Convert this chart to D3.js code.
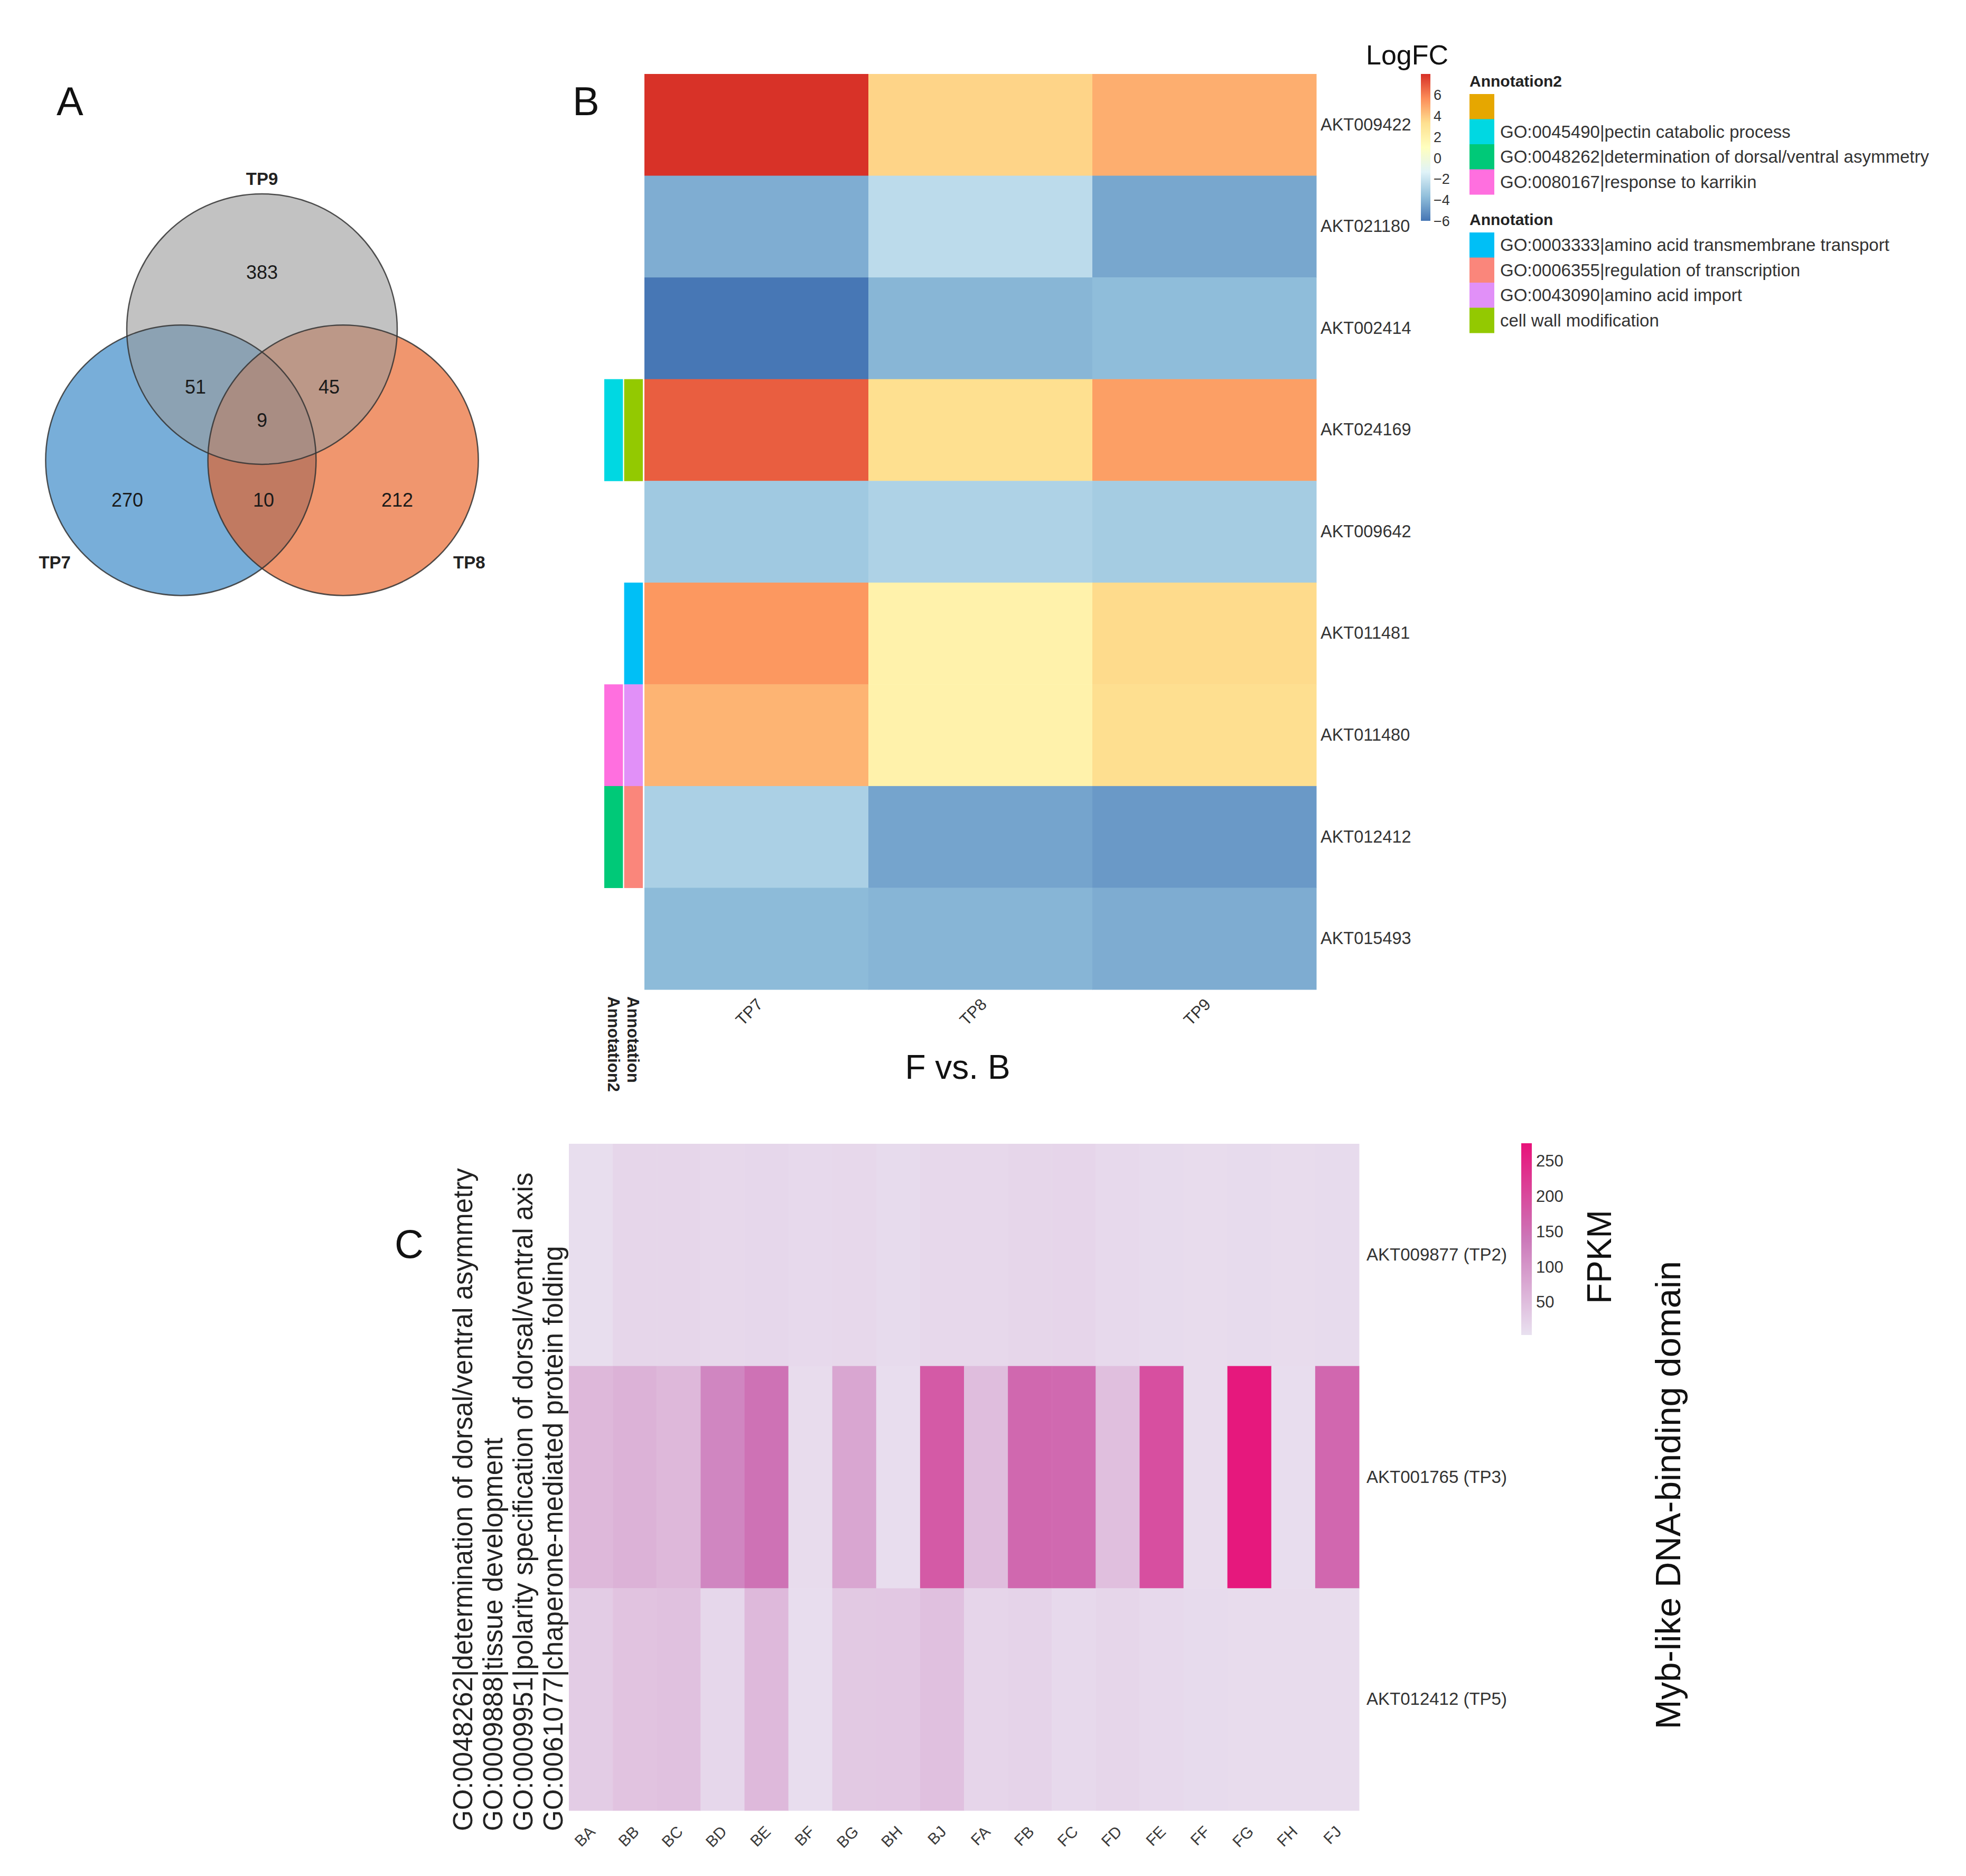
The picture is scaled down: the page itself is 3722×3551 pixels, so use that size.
<!DOCTYPE html>
<html>
<head>
<meta charset="utf-8">
<script src="https://cdn.jsdelivr.net/npm/d3@7"></script>
<style>
  body { margin: 0; background: #fff; }
  svg { display: block; background: #fff; }
  text { font-family: "Liberation Sans", Arial, Helvetica, sans-serif; fill: #222; }
  .axis path { display: none; }
</style>
</head>
<body>
<svg width="3722" height="3551"></svg>
<script>

// ---------- data ----------
// panel A : venn counts
var vennSets = ["TP7", "TP8", "TP9"];
var vennColors = ["#2f83c5", "#e85e20", "#999999"];
var vennRegions = ["TP7", "TP8", "TP9", "TP7&TP9", "TP8&TP9", "TP7&TP8", "TP7&TP8&TP9"];
var vennCounts = [270, 212, 383, 51, 45, 10, 9];

// panel B : logFC heatmap (F vs. B)
var degGenes = ["AKT009422", "AKT021180", "AKT002414", "AKT024169", "AKT009642",
                "AKT011481", "AKT011480", "AKT012412", "AKT015493"];
var degComparisons = ["TP7", "TP8", "TP9"];
var logfcTP7 = [7.95, -4.18, -5.9, 6.86, -3.18, 5.36, 4.58, -2.86, -3.74];
var logfcTP8 = [3.7, -2.36, -3.9, 3.35, -2.77, 2.0, 2.0, -4.48, -3.93];
var logfcTP9 = [4.75, -4.39, -3.69, 5.17, -3.04, 3.5, 3.37, -4.81, -4.21];
var logfcTicks = [6, 4, 2, 0, -2, -4, -6];
var logfcRange = [-5.95, 8.0];

var annotation2 = [null, null, null, "GO:0045490|pectin catabolic process", null, null,
                   "GO:0080167|response to karrikin", "GO:0048262|determination of dorsal/ventral asymmetry", null];
var annotation = [null, null, null, "cell wall modification", null,
                  "GO:0003333|amino acid transmembrane transport", "GO:0043090|amino acid import",
                  "GO:0006355|regulation of transcription", null];
var annotation2Levels = ["", "GO:0045490|pectin catabolic process",
                         "GO:0048262|determination of dorsal/ventral asymmetry", "GO:0080167|response to karrikin"];
var annotation2Colors = ["#e6a700", "#00d8e2", "#00c978", "#ff6fdf"];
var annotationLevels = ["GO:0003333|amino acid transmembrane transport", "GO:0006355|regulation of transcription",
                        "GO:0043090|amino acid import", "cell wall modification"];
var annotationColors = ["#00bff6", "#fa867b", "#e190f8", "#93c901"];

// panel C : FPKM heatmap
var fpkmGenes = ["AKT009877 (TP2)", "AKT001765 (TP3)", "AKT012412 (TP5)"];
var fpkmSamples = ["BA", "BB", "BC", "BD", "BE", "BF", "BG", "BH", "BJ",
                   "FA", "FB", "FC", "FD", "FE", "FF", "FG", "FH", "FJ"];
var fpkmTP2 = [8, 18, 18, 15, 17, 14, 15, 12, 15, 15, 18, 19, 14, 12, 10, 11, 10, 11];
var fpkmTP3 = [57, 65, 57, 121, 148, 10, 80, 9, 180, 50, 161, 160, 48, 194, 10, 268, 9, 162];
var fpkmTP5 = [31, 43, 45, 17, 56, 9, 35, 36, 46, 19, 22, 14, 18, 14, 11, 10, 10, 10];
var fpkmTicks = [50, 100, 150, 200, 250];
var fpkmRange = [3.6, 275.5];
var goTerms = ["GO:0048262|determination of dorsal/ventral asymmetry",
               "GO:0009888|tissue development",
               "GO:0009951|polarity specification of dorsal/ventral axis",
               "GO:0061077|chaperone-mediated protein folding"];

var svg = d3.select("svg");
var defs = svg.append("defs");
var axisFont = '"Liberation Sans", Arial, sans-serif';

// panel letters
[["A", 107, 218], ["B", 1084, 218], ["C", 747, 2381]].forEach(function (p) {
  svg.append("text").attr("x", p[1]).attr("y", p[2])
    .style("font-size", "76px").style("fill", "#111").text(p[0]);
});

// ---------- A : venn ----------
// circle layout in units of the radius, relative to the venn centre
var r = 256, vcx = 496, vcy = 788;
var vennLayout = { TP7: [-0.6, 0.325], TP8: [0.6, 0.325], TP9: [0, -0.645] };
var vennOpacity = [0.65, 0.65, 0.6];
var circles = vennSets.map(function (s, i) {
  return { name: s, color: vennColors[i], op: vennOpacity[i],
           cx: vcx + vennLayout[s][0] * r, cy: vcy + vennLayout[s][1] * r };
});
// label anchors of each region, also in radius units
var regionLayout = {
  "TP7": [-0.996, 0.621], "TP8": [1.0, 0.621], "TP9": [0, -1.066],
  "TP7&TP9": [-0.492, -0.215], "TP8&TP9": [0.496, -0.215],
  "TP7&TP8": [0.012, 0.621], "TP7&TP8&TP9": [0, 0.03]
};

var gA = svg.append("g");
gA.selectAll(".fill").data(circles).enter().append("circle")
  .attr("cx", function (d) { return d.cx; })
  .attr("cy", function (d) { return d.cy; })
  .attr("r", r)
  .attr("fill", function (d) { return d.color; })
  .attr("fill-opacity", function (d) { return d.op; });
gA.selectAll(".edge").data(circles).enter().append("circle")
  .attr("cx", function (d) { return d.cx; })
  .attr("cy", function (d) { return d.cy; })
  .attr("r", r)
  .attr("fill", "none")
  .attr("stroke", "#333")
  .attr("stroke-opacity", 0.85)
  .attr("stroke-width", 2.5);

gA.selectAll(".count").data(vennRegions).enter().append("text")
  .attr("x", function (k) { return vcx + regionLayout[k][0] * r; })
  .attr("y", function (k) { return vcy + regionLayout[k][1] * r; })
  .attr("text-anchor", "middle")
  .attr("dominant-baseline", "central")
  .style("font-size", "36px").style("fill", "#1a1a1a")
  .text(function (k, i) { return vennCounts[i]; });

var catAngle = { TP7: 141, TP8: 39, TP9: -90 };
var catDist = { TP7: 1.2, TP8: 1.2, TP9: 1.11 };
gA.selectAll(".cat").data(circles).enter().append("text")
  .attr("x", function (d) { return d.cx + catDist[d.name] * r * Math.cos(catAngle[d.name] * Math.PI / 180); })
  .attr("y", function (d) { return d.cy + catDist[d.name] * r * Math.sin(catAngle[d.name] * Math.PI / 180); })
  .attr("text-anchor", "middle")
  .attr("dominant-baseline", "central")
  .style("font-size", "33px").style("font-weight", "bold")
  .text(function (d) { return d.name; });

// ---------- B : logFC heatmap ----------
var xB = d3.scaleBand().domain(degComparisons).range([1220, 2492]);
var yB = d3.scaleBand().domain(degGenes).range([140, 1873]);
var rdylbu = ["#4575b4", "#91bfdb", "#e0f3f8", "#ffffbf", "#fee090", "#fc8d59", "#d73027"];
var colB = d3.scaleLinear()
  .domain(rdylbu.map(function (c, i) { return logfcRange[0] + i * (logfcRange[1] - logfcRange[0]) / 6; }))
  .range(rdylbu);

var logfc = [logfcTP7, logfcTP8, logfcTP9];
var cellsB = [];
degGenes.forEach(function (g, i) {
  degComparisons.forEach(function (c, j) { cellsB.push({ gene: g, comp: c, v: logfc[j][i] }); });
});

var gB = svg.append("g");
gB.selectAll("rect").data(cellsB).enter().append("rect")
  .attr("x", function (d) { return xB(d.comp); })
  .attr("y", function (d) { return yB(d.gene); })
  .attr("width", xB.bandwidth() + 0.5)
  .attr("height", yB.bandwidth() + 0.5)
  .attr("fill", function (d) { return colB(d.v); });

gB.append("g").attr("class", "axis")
  .attr("transform", "translate(2492,0)")
  .call(d3.axisRight(yB).tickSize(0).tickPadding(8))
  .selectAll("text").style("font-size", "32.5px").style("fill", "#333")
  .style("font-family", axisFont);

gB.append("g").attr("class", "axis")
  .attr("transform", "translate(0,1873)")
  .call(d3.axisBottom(xB).tickSize(0))
  .selectAll("text")
  .attr("x", 0).attr("y", 0).attr("dy", 0)
  .attr("text-anchor", "end")
  .attr("transform", "translate(14,30) rotate(-45)")
  .style("font-size", "31px").style("fill", "#333")
  .style("font-family", axisFont);

// annotation side bars
var annNames = ["Annotation2", "Annotation"];
var annData = { Annotation2: annotation2, Annotation: annotation };
var annColor = {
  Annotation2: d3.scaleOrdinal().domain(annotation2Levels).range(annotation2Colors),
  Annotation: d3.scaleOrdinal().domain(annotationLevels).range(annotationColors)
};
var xAnn = d3.scaleBand().domain(annNames).range([1144, 1217]).paddingInner(0.06);
var annCells = [];
annNames.forEach(function (a) {
  annData[a].forEach(function (v, i) { if (v !== null) annCells.push({ ann: a, gene: degGenes[i], v: v }); });
});
gB.selectAll(".ann").data(annCells).enter().append("rect")
  .attr("x", function (d) { return xAnn(d.ann); })
  .attr("y", function (d) { return yB(d.gene); })
  .attr("width", xAnn.bandwidth())
  .attr("height", yB.bandwidth() + 0.5)
  .attr("fill", function (d) { return annColor[d.ann](d.v); });

gB.selectAll(".annlab").data(annNames).enter().append("text")
  .attr("transform", function (d) { return "translate(" + (xAnn(d) + xAnn.bandwidth() / 2) + ",1886) rotate(90)"; })
  .attr("dy", "0.35em")
  .style("font-size", "31px").style("font-weight", "bold")
  .text(function (d) { return d; });

gB.append("text").attr("x", 1813).attr("y", 2042)
  .attr("text-anchor", "middle")
  .style("font-size", "64px").style("fill", "#111")
  .text("F vs. B");

// LogFC colour bar
var gradB = defs.append("linearGradient").attr("id", "gradB")
  .attr("x1", 0).attr("y1", 1).attr("x2", 0).attr("y2", 0);
gradB.selectAll("stop").data(rdylbu).enter().append("stop")
  .attr("offset", function (c, i) { return i / 6; })
  .attr("stop-color", function (c) { return c; });
var yL = d3.scaleLinear().domain(logfcRange).range([418, 140]);
gB.append("rect").attr("x", 2690).attr("y", yL(logfcRange[1]))
  .attr("width", 18).attr("height", yL(logfcRange[0]) - yL(logfcRange[1]))
  .attr("fill", "url(#gradB)");
gB.append("g").attr("class", "axis")
  .attr("transform", "translate(2708,0)")
  .call(d3.axisRight(yL).tickValues(logfcTicks).tickSize(0).tickPadding(6))
  .selectAll("text").style("font-size", "27px").style("fill", "#333")
  .style("font-family", axisFont);
gB.append("text").attr("x", 2586).attr("y", 122)
  .style("font-size", "52px").style("fill", "#111").text("LogFC");

// annotation legends
function annLegend(title, levels, colors, top) {
  var g = gB.append("g");
  g.append("text").attr("x", 2782).attr("y", top - 14)
    .style("font-size", "30px").style("font-weight", "bold").text(title);
  var yl = d3.scaleBand().domain(levels).range([top, top + levels.length * 47.5]);
  g.selectAll("rect").data(levels).enter().append("rect")
    .attr("x", 2782).attr("y", function (d) { return yl(d); })
    .attr("width", 47).attr("height", yl.bandwidth() + 0.5)
    .attr("fill", function (d, i) { return colors[i]; });
  g.selectAll(".lt").data(levels).enter().append("text")
    .attr("x", 2840).attr("y", function (d) { return yl(d) + yl.bandwidth() / 2; })
    .attr("dominant-baseline", "central")
    .style("font-size", "33px").style("fill", "#333")
    .text(function (d) { return d; });
}
annLegend("Annotation2", annotation2Levels, annotation2Colors, 178);
annLegend("Annotation", annotationLevels, annotationColors, 440);

// ---------- C : FPKM heatmap ----------
var xC = d3.scaleBand().domain(fpkmSamples).range([1077, 2573]);
var yC = d3.scaleBand().domain(fpkmGenes).range([2165, 3427]);
var pinkStops = ["#e9e1f0", "#cc78b9", "#e8127a"];
var colC = d3.scaleLinear()
  .domain([fpkmRange[0], (fpkmRange[0] + fpkmRange[1]) / 2, fpkmRange[1]])
  .range(pinkStops);

var fpkm = [fpkmTP2, fpkmTP3, fpkmTP5];
var cellsC = [];
fpkmGenes.forEach(function (g, i) {
  fpkmSamples.forEach(function (s, j) { cellsC.push({ gene: g, sample: s, v: fpkm[i][j] }); });
});

var gC = svg.append("g");
gC.selectAll("rect").data(cellsC).enter().append("rect")
  .attr("x", function (d) { return xC(d.sample); })
  .attr("y", function (d) { return yC(d.gene); })
  .attr("width", xC.bandwidth() + 0.5)
  .attr("height", yC.bandwidth() + 0.5)
  .attr("fill", function (d) { return colC(d.v); });

gC.append("g").attr("class", "axis")
  .attr("transform", "translate(2573,0)")
  .call(d3.axisRight(yC).tickSize(0).tickPadding(14))
  .selectAll("text").style("font-size", "33px").style("fill", "#333")
  .style("font-family", axisFont);

gC.append("g").attr("class", "axis")
  .attr("transform", "translate(0,3427)")
  .call(d3.axisBottom(xC).tickSize(0))
  .selectAll("text")
  .attr("x", 0).attr("y", 0).attr("dy", 0)
  .attr("text-anchor", "end")
  .attr("transform", "translate(10,42) rotate(-45)")
  .style("font-size", "30px").style("fill", "#3a3a3a")
  .style("font-family", axisFont);

// GO term labels on the left
gC.selectAll(".go").data(goTerms).enter().append("text")
  .attr("transform", function (d, i) { return "translate(" + (894 + i * 57) + ",3466) rotate(-90)"; })
  .style("font-size", "51px").style("fill", "#222")
  .text(function (d) { return d; });

// FPKM colour bar
var gradC = defs.append("linearGradient").attr("id", "gradC")
  .attr("x1", 0).attr("y1", 1).attr("x2", 0).attr("y2", 0);
gradC.selectAll("stop").data(pinkStops).enter().append("stop")
  .attr("offset", function (c, i) { return i / 2; })
  .attr("stop-color", function (c) { return c; });
var yF = d3.scaleLinear().domain(fpkmRange).range([2527, 2164]);
gC.append("rect").attr("x", 2880).attr("y", yF(fpkmRange[1]))
  .attr("width", 20).attr("height", yF(fpkmRange[0]) - yF(fpkmRange[1]))
  .attr("fill", "url(#gradC)");
gC.append("g").attr("class", "axis")
  .attr("transform", "translate(2900,0)")
  .call(d3.axisRight(yF).tickValues(fpkmTicks).tickSize(0).tickPadding(8))
  .selectAll("text").style("font-size", "31px").style("fill", "#333")
  .style("font-family", axisFont);

gC.append("text").attr("transform", "translate(3050,2379) rotate(-90)")
  .attr("text-anchor", "middle")
  .style("font-size", "64px").style("fill", "#111").text("FPKM");
gC.append("text").attr("transform", "translate(3181,2830) rotate(-90)")
  .attr("text-anchor", "middle")
  .style("font-size", "67px").style("fill", "#111").text("Myb-like DNA-binding domain");

</script>
</body>
</html>
